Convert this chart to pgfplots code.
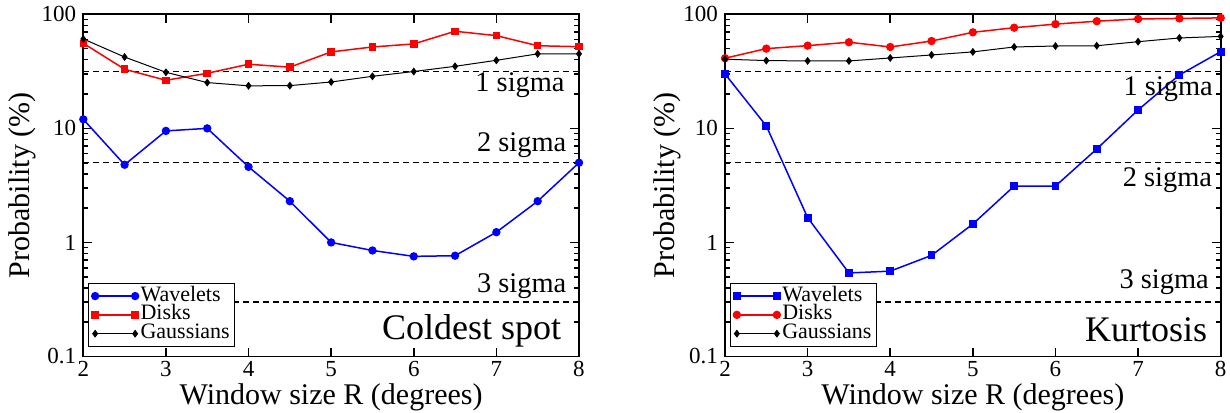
\documentclass[border=0pt]{standalone}
\usepackage{pgfplots}
\pgfplotsset{compat=1.18}
\usepackage{fontspec}
\setmainfont{Liberation Serif}

\definecolor{pblue}{RGB}{0,0,255}
\definecolor{pred}{RGB}{255,0,0}

\tikzset{
  sigline/.style={black, line width=0.6pt, dash pattern=on 3pt off 2pt},
  sigtext/.style={anchor=base east, inner sep=0pt, font=\fontsize{14.2}{14.2}\selectfont},
  paneltext/.style={anchor=base east, inner sep=0pt, font=\fontsize{18}{18}\selectfont},
}

\pgfplotstableread{
R    wav    disk   gauss
2    12.0   55.7   60.8
2.5  4.8    33.0   42.2
3    9.5    26.4   31.0
3.5  10.0   30.4   25.2
4    4.6    36.5   23.6
4.5  2.3    34.4   23.7
5    1.0    46.8   25.5
5.5  0.85   51.7   28.6
6    0.755  55.0   31.5
6.5  0.765  71.0   35.0
7    1.23   65.0   39.5
7.5  2.3    53.0   45.0
8    5.0    52.0   45.0
}\coldest

\pgfplotstableread{
R    wav    disk   gauss
2    30.0   41.2   40.4
2.5  10.5   50.0   39.3
3    1.65   53.1   39.0
3.5  0.54   56.9   39.0
4    0.56   51.7   41.4
4.5  0.77   58.3   44.0
5    1.45   69.5   46.8
5.5  3.12   76.3   51.7
6    3.12   82.0   52.7
6.5  6.6    87.0   53.0
7    14.5   91.0   57.5
7.5  29.4   92.0   62.0
8    47.0   93.0   64.0
}\kurtosis

\begin{document}
\begin{tikzpicture}
\useasboundingbox (-41.65pt,-27.75pt) rectangle (573.35pt,178.25pt);

% ---- left panel: coldest spot
\begin{axis}[
  ymode=log,
  scale only axis,
  width=247.85pt, height=171.1pt,
  xmin=2, xmax=8, ymin=0.1, ymax=100,
  xtick={2,3,4,5,6,7,8},
  ytick={0.1,1,10,100},
  yticklabels={0.1,1,10,100},
  minor ytick={0.2,0.3,0.4,0.5,0.6,0.7,0.8,0.9,2,3,4,5,6,7,8,9,20,30,40,50,60,70,80,90},
  tick align=inside,
  tick pos=both,
  major tick length=4.5pt,
  minor tick length=2.5pt,
  axis line style={line width=0.8pt},
  every tick/.style={line width=0.8pt, black},
  tick label style={font=\fontsize{11.5}{11.5}\selectfont},
  xticklabel style={inner sep=0.5pt, yshift=-1.8pt},
  /pgf/number format/assume math mode=true,
  xlabel={Window size R (degrees)},
  ylabel={Probability (\%)},
  label style={font=\fontsize{15}{15}\selectfont, inner sep=0pt},
  xlabel style={at={(axis description cs:0.5,0)}, anchor=base, yshift=-23.8pt},
  ylabel style={at={(axis description cs:-0.1083,0.5)}, anchor=base},
  clip=false,
  legend cell align=left,
  legend style={at={(0.01,0.029)}, anchor=south west, draw=black, line width=0.5pt,
    fill=white, inner sep=1.5pt, row sep=0pt,
    font=\fontsize{11}{11}\selectfont,
    nodes={inner sep=1pt, text height=0.62em, text depth=0.12em}},
  legend image code/.code={\draw[#1] plot coordinates {(0pt,0pt) (20pt,0pt)};},
]
\addplot[sigline, forget plot] coordinates {(2,31.7) (8,31.7)};
\addplot[sigline, forget plot] coordinates {(2,5) (8,5)};
\addplot[sigline, forget plot] coordinates {(2,0.3) (8,0.3)};
\addplot[pblue, line width=0.75pt, mark=*, mark size=1.7pt] table[x=R, y=wav] {\coldest};
\addlegendentry{Wavelets}
\addplot[pred, line width=0.75pt, mark=square*, mark size=1.5pt] table[x=R, y=disk] {\coldest};
\addlegendentry{Disks}
\addplot[black, line width=0.5pt, mark=diamond*, mark size=1.6pt] table[x=R, y=gauss] {\coldest};
\addlegendentry{Gaussians}
\node[sigtext] at (axis cs:7.83,20.9) {1 sigma};
\node[sigtext] at (axis cs:7.85,6.26) {2 sigma};
\node[sigtext] at (axis cs:7.85,0.365) {3 sigma};
\node[paneltext] at (axis cs:7.79,0.1406) {Coldest spot};
\end{axis}

% ---- right panel: kurtosis
\begin{axis}[
  at={(320.85pt,0pt)},
  ymode=log,
  scale only axis,
  width=247.85pt, height=171.1pt,
  xmin=2, xmax=8, ymin=0.1, ymax=100,
  xtick={2,3,4,5,6,7,8},
  ytick={0.1,1,10,100},
  yticklabels={0.1,1,10,100},
  minor ytick={0.2,0.3,0.4,0.5,0.6,0.7,0.8,0.9,2,3,4,5,6,7,8,9,20,30,40,50,60,70,80,90},
  tick align=inside,
  tick pos=both,
  major tick length=4.5pt,
  minor tick length=2.5pt,
  axis line style={line width=0.8pt},
  every tick/.style={line width=0.8pt, black},
  tick label style={font=\fontsize{11.5}{11.5}\selectfont},
  xticklabel style={inner sep=0.5pt, yshift=-1.8pt},
  /pgf/number format/assume math mode=true,
  xlabel={Window size R (degrees)},
  ylabel={Probability (\%)},
  label style={font=\fontsize{15}{15}\selectfont, inner sep=0pt},
  xlabel style={at={(axis description cs:0.5,0)}, anchor=base, yshift=-23.8pt},
  ylabel style={at={(axis description cs:-0.1022,0.5)}, anchor=base},
  clip=false,
  legend cell align=left,
  legend style={at={(0.01,0.029)}, anchor=south west, draw=black, line width=0.5pt,
    fill=white, inner sep=1.5pt, row sep=0pt,
    font=\fontsize{11}{11}\selectfont,
    nodes={inner sep=1pt, text height=0.62em, text depth=0.12em}},
  legend image code/.code={\draw[#1] plot coordinates {(0pt,0pt) (20pt,0pt)};},
]
\addplot[sigline, forget plot] coordinates {(2,31.7) (8,31.7)};
\addplot[sigline, forget plot] coordinates {(2,5) (8,5)};
\addplot[sigline, forget plot] coordinates {(2,0.3) (8,0.3)};
\addplot[pblue, line width=0.75pt, mark=square*, mark size=1.6pt] table[x=R, y=wav] {\kurtosis};
\addlegendentry{Wavelets}
\addplot[pred, line width=0.75pt, mark=*, mark size=1.7pt] table[x=R, y=disk] {\kurtosis};
\addlegendentry{Disks}
\addplot[black, line width=0.5pt, mark=diamond*, mark size=1.6pt] table[x=R, y=gauss] {\kurtosis};
\addlegendentry{Gaussians}
\node[sigtext] at (axis cs:7.91,19.6) {1 sigma};
\node[sigtext] at (axis cs:7.90,3.09) {2 sigma};
\node[sigtext] at (axis cs:7.86,0.391) {3 sigma};
\node[paneltext] at (axis cs:7.84,0.136) {Kurtosis};
\end{axis}
\end{tikzpicture}
\end{document}
